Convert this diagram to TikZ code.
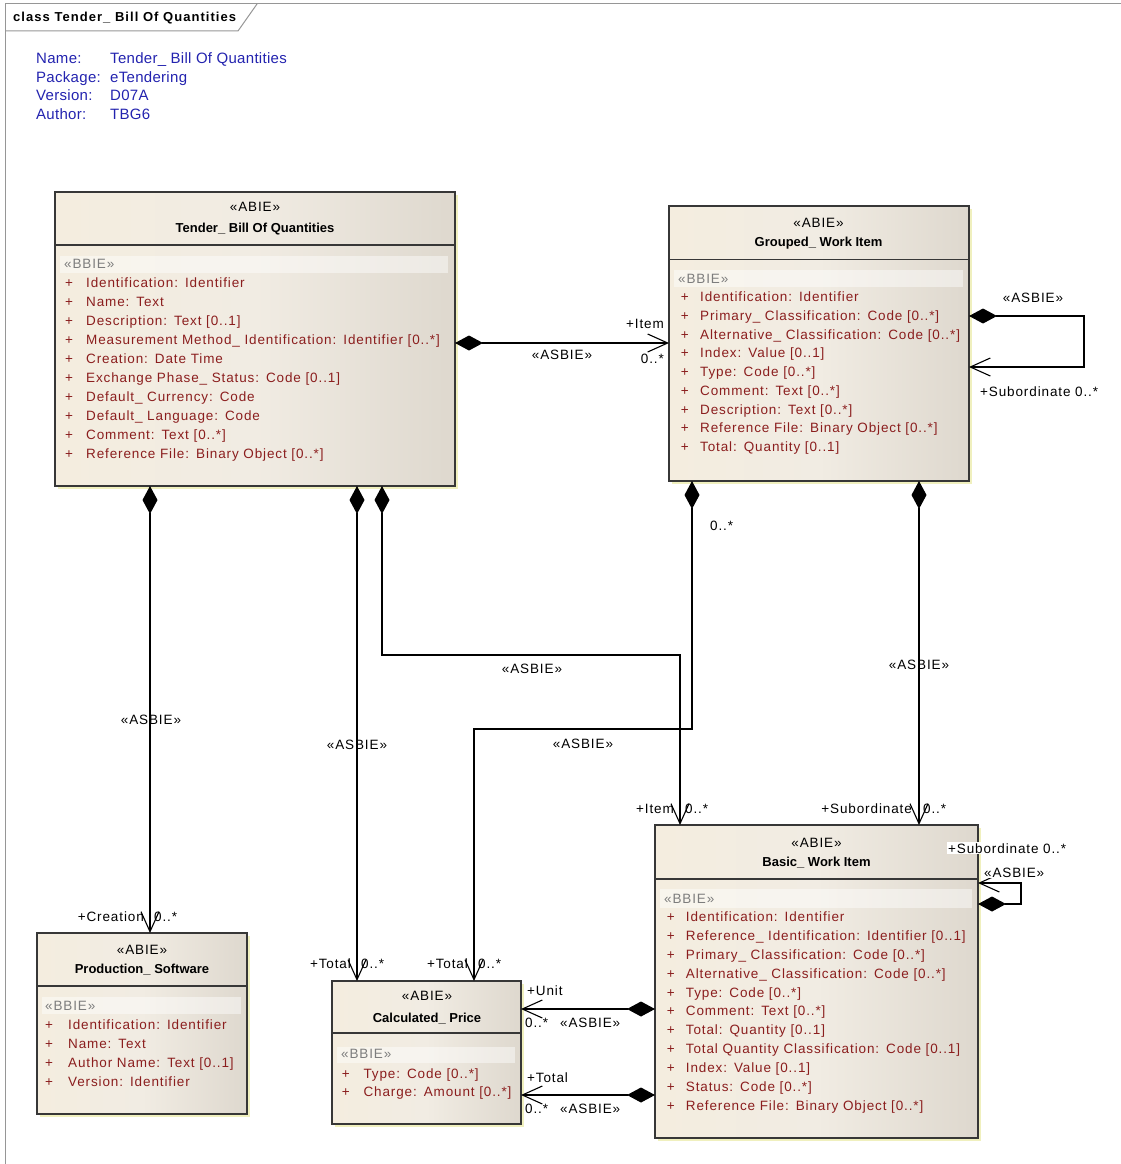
\documentclass[tikz,border=0pt]{standalone}
\usepackage{fontspec}
\setmainfont{Liberation Sans}
\newfontfamily\regfont[LetterSpace=6.5]{Liberation Sans}
\newfontfamily\infofont[LetterSpace=2]{Liberation Sans}
\newfontfamily\titlefont[LetterSpace=8]{Liberation Sans}
\usetikzlibrary{arrows.meta,shadows,calc}

\definecolor{attrred}{RGB}{139,30,30}
\definecolor{infoblue}{RGB}{35,35,175}
\definecolor{bbiegrey}{RGB}{125,125,125}
\definecolor{boxline}{RGB}{55,55,55}
\definecolor{framegrey}{RGB}{150,150,150}
\definecolor{creamL}{RGB}{244,237,223}
\definecolor{creamM}{RGB}{241,236,227}
\definecolor{creamR}{RGB}{222,216,206}
\definecolor{shadowc}{RGB}{240,240,190}

\newcommand\cln{:\hspace{7pt}}
\newcommand\attrlist[6]{%
  \foreach \t [count=\i from 0] in {#6}{%
    \node[attr] (#1p\i) at (#2,{#4+\i*#5}) {+};
    \node[attr] (#1t\i) at (#3,{#4+\i*#5}) {\t};
  }%
}

\tikzset{
  umlbox/.style={draw=boxline, line width=1.5pt, left color=creamL, right color=creamR, middle color=creamM,
    anchor=north west, inner sep=0pt, outer sep=0pt,
    drop shadow={shadow xshift=3pt, shadow yshift=-3pt, fill=shadowc, opacity=1}},
  divider/.style={draw=boxline, line width=1.5pt},
  band/.style={fill=white, fill opacity=0.45},
  attr/.style={font={\regfont\fontsize{13.5}{16}\selectfont}, text=attrred, inner sep=0pt, anchor=base west},
  bbie/.style={font={\regfont\fontsize{13.5}{16}\selectfont}, text=bbiegrey, inner sep=0pt, anchor=base west},
  stereo/.style={font={\regfont\fontsize{13.5}{16}\selectfont}, inner sep=0pt, anchor=base},
  cname/.style={font={\bfseries\fontsize{13}{15}\selectfont}, inner sep=0pt, anchor=base},
  lbl/.style={font={\regfont\fontsize{13.5}{16}\selectfont}, inner sep=0pt},
  info/.style={font={\infofont\fontsize{15}{18}\selectfont}, text=infoblue, inner sep=0pt, anchor=base west},
  frameline/.style={draw=framegrey, line width=1pt},
  comp/.style={draw=black, line width=1.1pt,
    arrows={Diamond[length=28pt,width=15pt]-Straight Barb[length=20pt,width=18pt]}},
}

\begin{document}
\begin{tikzpicture}[x=1pt,y=-1pt]
\useasboundingbox (0,0) rectangle (1121,1164);

% frame
\draw[frameline] (5,4) -- (1121,4);
\draw[frameline] (5,4) -- (5,1164);
\draw[frameline] (5,31) -- (238,31) -- (257,4);
\node[font={\titlefont\bfseries\fontsize{13}{15}\selectfont}, inner sep=0pt, anchor=base west] (title) at (13,22) {class Tender\_ Bill Of Quantities};

% info
\node[info] (i1) at (36,63.3) {Name:};
\node[info] (i2) at (36,82) {Package:};
\node[info] (i3) at (36,100.7) {Version:};
\node[info] (i4) at (36,119.4) {Author:};
\node[info] (v1) at (110,63.3) {Tender\_ Bill Of Quantities};
\node[info] (v2) at (110,82) {eTendering};
\node[info] (v3) at (110,100.7) {D07A};
\node[info] (v4) at (110,119.4) {TBG6};

% boxes
\node[umlbox, minimum width=400pt, minimum height=294pt] (tender) at (55,192) {};
\node[umlbox, minimum width=300pt, minimum height=275pt] (grouped) at (669,206) {};
\node[umlbox, minimum width=323pt, minimum height=313pt] (basic) at (655,825) {};
\node[umlbox, minimum width=189pt, minimum height=143pt] (calc) at (332,981) {};
\node[umlbox, minimum width=210pt, minimum height=181pt] (prod) at (37,933) {};

% dividers
\draw[divider] ($(tender.north west)+(0,53)$) -- ($(tender.north east)+(0,53)$);
\draw[divider] ($(grouped.north west)+(0,53.5)$) -- ($(grouped.north east)+(0,53.5)$);
\draw[divider] ($(basic.north west)+(0,54)$) -- ($(basic.north east)+(0,54)$);
\draw[divider] ($(calc.north west)+(0,52)$) -- ($(calc.north east)+(0,52)$);
\draw[divider] ($(prod.north west)+(0,53)$) -- ($(prod.north east)+(0,53)$);

% bands
\fill[band] ($(tender.north west)+(5,64)$) rectangle ($(tender.north east)+(-7,81)$);
\fill[band] ($(grouped.north west)+(5,64)$) rectangle ($(grouped.north east)+(-6,81)$);
\fill[band] ($(basic.north west)+(5,64)$) rectangle ($(basic.north east)+(-6,83)$);
\fill[band] ($(calc.north west)+(5,66)$) rectangle ($(calc.north east)+(-6,82)$);
\fill[band] ($(prod.north west)+(5,64)$) rectangle ($(prod.north east)+(-6,81)$);

% headers
\node[stereo] (tS) at (255,211) {«ABIE»};
\node[cname] (tN) at (255,232) {Tender\_ Bill Of Quantities};
\node[stereo] (gS) at (818.5,227) {«ABIE»};
\node[cname] (gN) at (818.5,246) {Grouped\_ Work Item};
\node[stereo] (bS) at (816.5,847) {«ABIE»};
\node[cname] (bN) at (816.5,866) {Basic\_ Work Item};
\node[stereo] (cS) at (427,1000) {«ABIE»};
\node[cname] (cN) at (427,1022) {Calculated\_ Price};
\node[stereo] (pS) at (142,954) {«ABIE»};
\node[cname] (pN) at (142,973.5) {Production\_ Software};

\node[bbie] (tB) at (64,268.5) {«BBIE»};
\node[bbie] (gB) at (678,283) {«BBIE»};
\node[bbie] (bB) at (664,903) {«BBIE»};
\node[bbie] (cB) at (341,1058.5) {«BBIE»};
\node[bbie] (pB) at (45,1010) {«BBIE»};

% attributes
\attrlist{ta}{65}{86}{287}{19}{Identification\cln Identifier, Name\cln Text, Description\cln Text [0..1], Measurement Method\_ Identification\cln Identifier [0..*], Creation\cln Date Time, Exchange Phase\_ Status\cln Code [0..1], Default\_ Currency\cln Code, Default\_ Language\cln Code, Comment\cln Text [0..*], Reference File\cln Binary Object [0..*]}
\attrlist{ga}{680.7}{700}{301.7}{18.75}{Identification\cln Identifier, Primary\_ Classification\cln Code [0..*], Alternative\_ Classification\cln Code [0..*], Index\cln Value [0..1], Type\cln Code [0..*], Comment\cln Text [0..*], Description\cln Text [0..*], Reference File\cln Binary Object [0..*], Total\cln Quantity [0..1]}
\attrlist{ba}{666.7}{685.7}{921.7}{18.83}{Identification\cln Identifier, Reference\_ Identification\cln Identifier [0..1], Primary\_ Classification\cln Code [0..*], Alternative\_ Classification\cln Code [0..*], Type\cln Code [0..*], Comment\cln Text [0..*], Total\cln Quantity [0..1], Total Quantity Classification\cln Code [0..1], Index\cln Value [0..1], Status\cln Code [0..*], Reference File\cln Binary Object [0..*]}
\attrlist{ca}{341.7}{363.3}{1078.3}{18.4}{Type\cln Code [0..*], Charge\cln Amount [0..*]}
\attrlist{pa}{45}{68}{1029.8}{18.8}{Identification\cln Identifier, Name\cln Text, Author Name\cln Text [0..1], Version\cln Identifier}

% connectors
\draw[comp] ($(tender.north east)+(0,151)$) -- ($(grouped.north west)+(0,137)$);
\draw[comp] ($(tender.south west)+(95,0)$) -- ($(prod.north west)+(113,0)$);
\draw[comp] ($(tender.south west)+(302,0)$) -- ($(calc.north west)+(25,0)$);
\coordinate (dbend) at (680,655);
\draw[comp] ($(tender.south west)+(327,0)$) |- (dbend) -- ($(basic.north west)+(25,0)$);
\coordinate (ebend) at (692,729);
\coordinate (ebend2) at (474,729);
\draw[comp] ($(grouped.south west)+(23,0)$) -- (ebend) -- (ebend2) -- ($(calc.north west)+(142,0)$);
\draw[comp] ($(grouped.south west)+(250,0)$) -- ($(basic.north west)+(264,0)$);
\draw[comp] ($(basic.north west)+(0,184)$) -- ($(calc.north east)+(0,28)$);
\draw[comp] ($(basic.north west)+(0,270)$) -- ($(calc.north east)+(0,114)$);
\coordinate (gl1) at (1084,316);
\coordinate (gl2) at (1084,367);
\draw[comp] ($(grouped.north east)+(0,110)$) -- (gl1) -- (gl2) -- ($(grouped.north east)+(0,161)$);
\coordinate (bl1) at (1021,904);
\coordinate (bl2) at (1021,883);
\draw[comp] ($(basic.north east)+(0,79)$) -- (bl1) -- (bl2) -- ($(basic.north east)+(0,58)$);

% connector labels
\node[lbl, anchor=base east] (la1) at (664,328) {+Item};
\node[lbl, anchor=base east] (la2) at (664,363) {0..*};
\node[lbl, anchor=base] (la3) at (562,359) {«ASBIE»};

\node[lbl, anchor=base] (lg1) at (1033,302) {«ASBIE»};
\node[lbl, anchor=base west] (lg2) at (980,396) {+Subordinate 0..*};

\node[lbl] (lb1) at (151,720) {«ASBIE»};
\node[lbl, anchor=base east] (lb2) at (144,921) {+Creation};
\node[lbl, anchor=base west] (lb3) at (154,921) {0..*};

\node[lbl] (lc1) at (357,745) {«ASBIE»};
\node[lbl, anchor=base east] (lc2) at (351,968) {+Total};
\node[lbl, anchor=base west] (lc3) at (361,968) {0..*};

\node[lbl, anchor=base] (ld1) at (532,673) {«ASBIE»};
\node[lbl, anchor=base east] (ld2) at (674,813) {+Item};
\node[lbl, anchor=base west] (ld3) at (685,813) {0..*};

\node[lbl, anchor=base west] (le1) at (710,530) {0..*};
\node[lbl, anchor=base] (le2) at (583,748) {«ASBIE»};
\node[lbl, anchor=base east] (le3) at (468,968) {+Total};
\node[lbl, anchor=base west] (le4) at (478,968) {0..*};

\node[lbl] (lf1) at (919,665) {«ASBIE»};
\node[lbl, anchor=base east] (lf2) at (912,813) {+Subordinate};
\node[lbl, anchor=base west] (lf3) at (923,813) {0..*};

\node[lbl, anchor=base west] (lu1) at (527,995) {+Unit};
\node[lbl, anchor=base west] (lu2) at (525,1027) {0..*};
\node[lbl, anchor=base west] (lu3) at (560,1027) {«ASBIE»};
\node[lbl, anchor=base west] (lt1) at (527,1082) {+Total};
\node[lbl, anchor=base west] (lt2) at (525,1113) {0..*};
\node[lbl, anchor=base west] (lt3) at (560,1113) {«ASBIE»};

\node[lbl, anchor=base west, fill=white, inner sep=1pt] (ls1) at (947,853) {+Subordinate 0..*};
\node[lbl, anchor=base west, fill=white, inner sep=1pt] (ls2) at (983,877) {«ASBIE»};
\end{tikzpicture}
\end{document}
